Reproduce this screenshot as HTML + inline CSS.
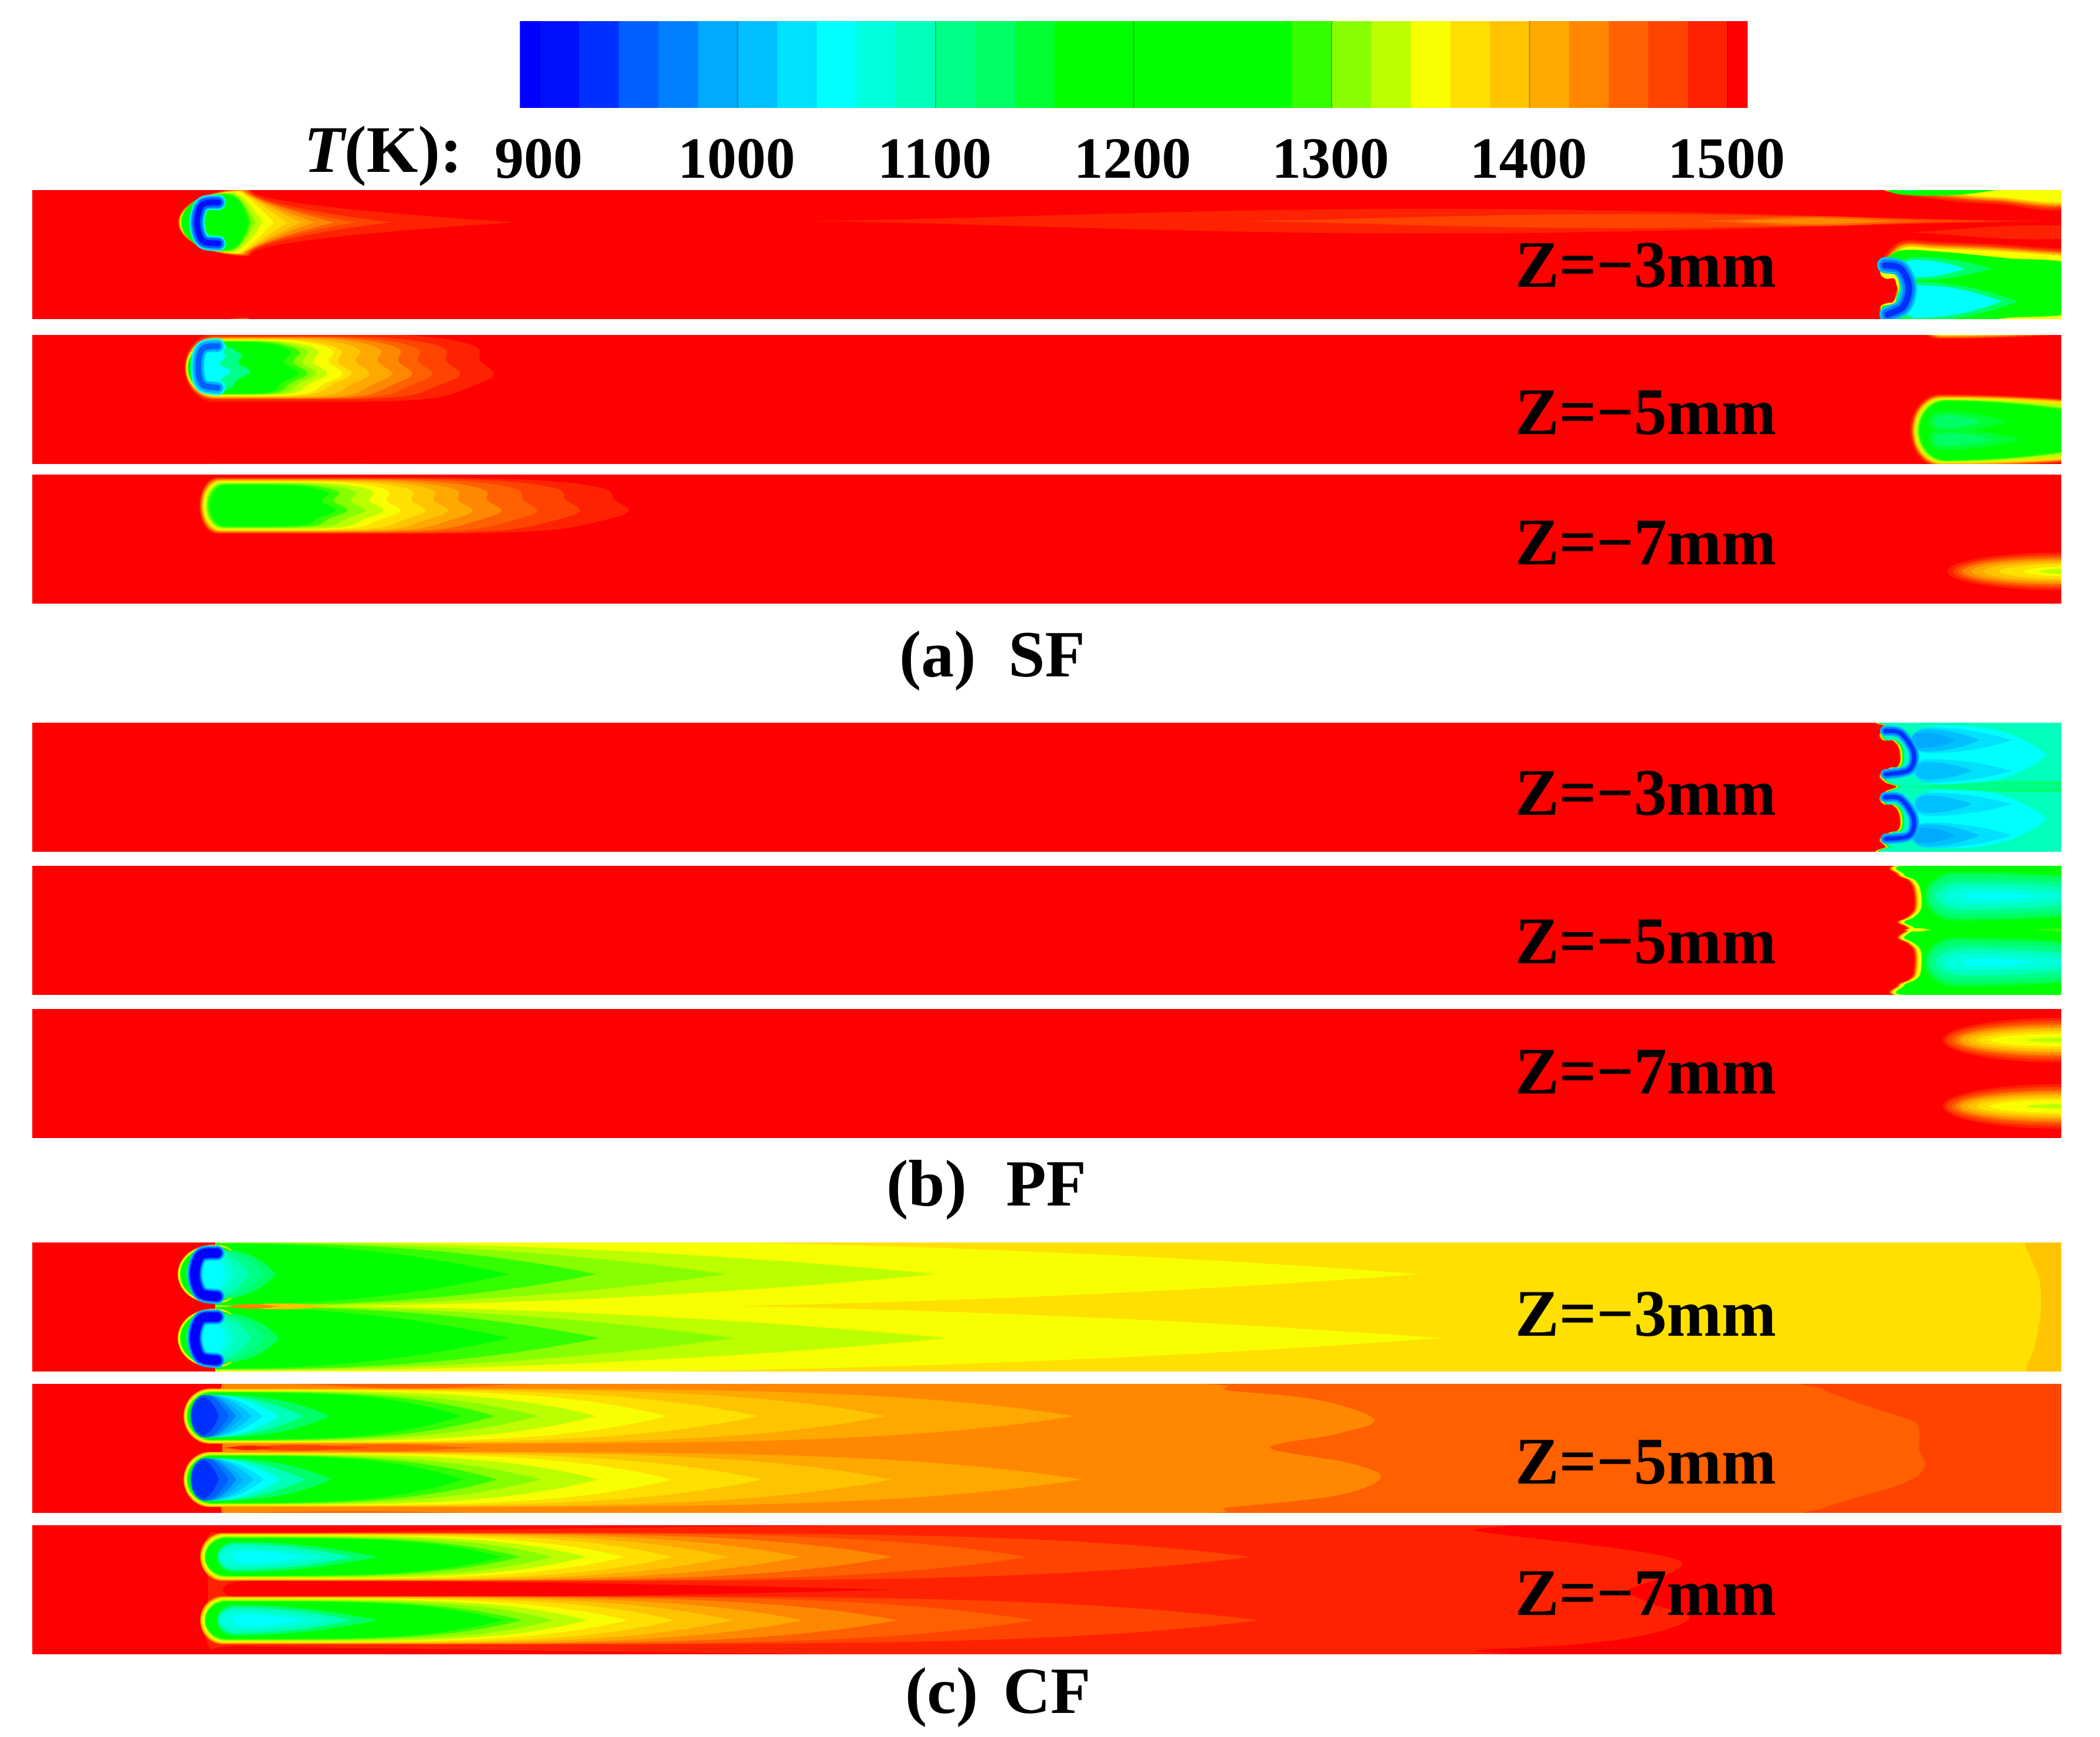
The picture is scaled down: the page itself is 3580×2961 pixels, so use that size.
<!DOCTYPE html>
<html lang="en">
<head>
<meta charset="utf-8">
<title>Temperature contours SF PF CF</title>
<style>
html,body{margin:0;padding:0;background:#fff;}
svg{display:block;}
text{font-family:"Liberation Serif",serif;font-weight:bold;fill:#000;}
</style>
</head>
<body>
<svg id="chart" xmlns="http://www.w3.org/2000/svg" width="3580" height="2961" viewBox="0 0 3580 2961">
<rect x="0" y="0" width="3580" height="2961" fill="#fff"/>
<defs id="clips"></defs>
<g id="colorbar"></g>
<g id="panels"></g>
<g id="tickLabels"></g>
<text x="518" y="293" font-size="113"><tspan font-style="italic">T</tspan>(K):</text>

<text x="2583" y="489" font-size="113" textLength="445" lengthAdjust="spacingAndGlyphs">Z=−3mm</text>
<text x="2583" y="740" font-size="113" textLength="445" lengthAdjust="spacingAndGlyphs">Z=−5mm</text>
<text x="2583" y="962" font-size="113" textLength="445" lengthAdjust="spacingAndGlyphs">Z=−7mm</text>
<text x="2583" y="1389" font-size="113" textLength="445" lengthAdjust="spacingAndGlyphs">Z=−3mm</text>
<text x="2583" y="1642" font-size="113" textLength="445" lengthAdjust="spacingAndGlyphs">Z=−5mm</text>
<text x="2583" y="1864" font-size="113" textLength="445" lengthAdjust="spacingAndGlyphs">Z=−7mm</text>
<text x="2583" y="2277" font-size="113" textLength="445" lengthAdjust="spacingAndGlyphs">Z=−3mm</text>
<text x="2583" y="2529" font-size="113" textLength="445" lengthAdjust="spacingAndGlyphs">Z=−5mm</text>
<text x="2583" y="2753" font-size="113" textLength="445" lengthAdjust="spacingAndGlyphs">Z=−7mm</text>

<text x="1533" y="1153" font-size="112">(a)</text>
<text x="1719" y="1153" font-size="112">SF</text>
<text x="1511" y="2055" font-size="112">(b)</text>
<text x="1715" y="2055" font-size="112">PF</text>
<text x="1543" y="2920" font-size="112">(c)</text>
<text x="1710" y="2920" font-size="112">CF</text>
</svg>
<script>
// ---------- colour scale ----------
const bandTemps  = [890,900,920,940,960,980,1000,1020,1040,1060,1080,1100,1120,1140,1160,1200,1280,1300,1320,1340,1360,1380,1400,1420,1440,1460,1480,1500];
const bandColors = ['#0000ff','#0010ff','#0030ff','#0060ff','#0080ff','#00aaff','#00c0ff','#00e0ff','#00ffff','#00ffdd','#00ffbb','#00ff88','#00ff66','#00ff33','#00ff00','#00ff00','#33ff00','#88ff00','#bbff00','#f8ff00','#ffe000','#ffc400','#ffa800','#ff8800','#ff6000','#ff4400','#ff2200','#ff0000'];
const bandMax = 1510;
const tickValues = [900,1000,1100,1200,1300,1400,1500];
const tickLabels = ['900','1000','1100','1200','1300','1400','1500'];

// ---------- channel sections ----------
const panelTops = [324,571,809,1232,1476,1720,2118,2359,2600];
const stationDomain = [55,3514];
const spanDomain = [0,220];

// level rows: [temperature, head station, tip station, second-plume tip, half width, taper power, nose length]
// SF
const sfZ3Wake = [[1480,303,880,null,58,.5,120],[1460,304,666,null,57,.55,118],[1440,305,605,null,56,.6,116],[1420,305,570,null,55,.7,112],[1400,306,536,null,54,.8,108],[1380,306,513,null,54,.9,106],[1360,307,490,null,53,1,104],[1340,307,467,null,52,1.2,100],[1320,308,448,null,51,1.5,90],[1300,308,436,null,50,2,80],[1280,309,428,null,49,3,70],[1200,310,424,null,47,4,60]];
const sfZ5Wake = [[1480,315,833,null,58,7,50],[1460,315,775,null,54,7,50],[1440,316,727,null,53,7,50],[1420,316,693,null,52,7,50],[1400,317,658,null,51,7,50],[1380,317,620,null,50,7,50],[1360,318,589,null,49,6,50],[1340,318,574,null,48,6,50],[1320,319,547,null,47,6,48],[1300,320,528,null,46,6,48],[1280,320,513,null,45,6,46],[1200,321,497,null,44,6,46],[1100,330,420,null,38,3,40],[1040,330,385,null,34,3,36]];
const sfZ7Wake = [[1480,340,1064,null,48,7,30],[1460,341,980,null,47,7,30],[1440,342,907,null,46,7,30],[1420,343,846,null,45,7,30],[1400,344,796,null,44,7,30],[1380,345,754,null,43,7,30],[1360,346,716,null,42,7,30],[1340,348,673,null,41,7,30],[1320,350,643,null,40,7,28],[1300,352,612,null,38,7,28],[1280,354,582,null,37,7,28],[1200,358,562,null,35,7,26]];
const sfZ5Tail = [[1480,3256,3900,null,62,2,50],[1440,3259,3900,null,60,2,50],[1400,3261,3900,null,58,2,48],[1360,3263,3900,null,56,2,48],[1320,3266,3800,null,54,2,46],[1280,3270,3700,null,52,2,46],[1200,3273,3680,null,50,2,44]];
const sfZ5Lobes = [[1140,3288,3420,3445,18,2,25],[1120,3296,3380,3400,11,2,20]];
const sfZ7Tail = [[1480,3320,4200,null,32,2,190],[1460,3330,4200,null,28,2,180],[1440,3338,4200,null,25,2,170],[1420,3346,4200,null,22,2,165],[1400,3361,4200,null,19,2,155],[1380,3381,4200,null,16,2,140],[1360,3409,4200,null,13,2,120],[1340,3450,4200,null,9,2,100],[1320,3478,4200,null,5,2,70]];
const sfZ3UpperLobe = [[1120,3236,3395,null,20,2,30],[1040,3240,3350,null,15,2,25]];
const sfZ3LowerLobe = [[1120,3232,3440,null,34,2,30],[1040,3240,3412,null,28,2,30]];
const sfZ3TopLobe = [[1100,3222,3340,null,34,2,30],[1040,3224,3290,null,30,2,24]];
// streak rows: [temperature, start, end, centre, half width]
const sfZ3Streak = [[1480,1370,3500,53,21],[1460,2100,3440,53,12],[1440,2892,3299,53,8],[1420,2950,3240,53,5],[1480,3250,3700,72,12]];
// outlines: station, span pairs
const sfZ3Front = [3216,222,3204,200,3214,193,3226,190,3233,170,3231,152,3226,139,3212,139,3203,129,3218,105,3245,86,3300,88,3400,92,3514,100,3540,100,3540,244,3400,244,3300,236];
const sfZ3FrontLevels = [[1480,0,0],[1460,1,3],[1420,2,6],[1380,2,9],[1340,3,12]];
const sfZ3Green = [3220,222,3208,200,3218,196,3230,193,3238,170,3236,152,3231,136,3216,135,3208,129,3224,110,3250,102,3320,106,3420,116,3540,130,3540,205,3420,218,3340,228,3260,229];
const sfZ3Crescent = [3214,128,3240,134,3254,165,3245,198,3218,212];
const sfZ3Arc = [372,21,345,25,336,55,345,86,372,91];
const sfZ5Arc = [371,19,345,24,338,55,345,84,371,90];
const arcStrokesDeep = [[1040,26],[980,22],[940,17],[900,10]];
const arcStrokesMild = [[1040,26],[1000,20],[980,16],[950,10]];
// PF
const pfZ3Front = [3223,-2,3214,7,3204,20,3210,30,3225,30,3236,42,3239,62,3234,75,3221,77,3204,90,3214,102,3232,109,3214,117,3204,129,3211,139,3225,140,3236,152,3239,172,3234,184,3221,187,3204,199,3214,211,3223,222,3540,222,3540,-2];
const pfZ3FrontLevels = [[1420,0,0],[1340,2,0],[1200,4,0],[1080,7,0]];
const pfZ3Core = [[1040,3265,3490,null,50,3,40]];
const pfZ3OuterLobes = [[1020,3258,3430,null,22,2,30],[1000,3258,3375,null,19,2,25],[980,3258,3334,null,13,2,20]];
const pfZ3InnerLobes = [[1020,3262,3430,null,20,2,25],[1000,3265,3362,null,15,2,20]];
const pfZ3Band = [[1120,3232,3700,109,9],[1100,3240,3600,109,6]];
const pfZ3ArcUpper = [3214,14,3240,18,3262,50,3255,80,3215,88];
const pfZ3ArcLower = [3214,127,3240,130,3262,162,3255,192,3215,198];
const pfZ3ArcStrokes = [[1000,18],[960,13],[920,7]];
const pfZ5Front = [3247,-2,3234,15,3253,25,3262,42,3263,72,3251,87,3234,96,3251,107,3234,122,3251,132,3263,147,3262,182,3253,194,3234,204,3247,222,3540,222,3540,-2];
const pfZ5FrontLevels = [[1460,0,0],[1400,3,0],[1360,5,0],[1340,7,0],[1200,12,0]];
const pfZ5Core = [[1140,3282,3800,null,42,2,50],[1120,3285,3800,null,38,2,50],[1100,3290,3760,null,30,2,50],[1080,3300,3640,null,23,2,50],[1060,3315,3560,null,14,2,40],[1040,3347,3470,null,6,2,40]];
const pfZ5Spikes = [[1340,3245,3292,109,3],[1280,3456,3600,109,3]];
const pfZ7Tail = [[1480,3312,4200,null,38,2,200],[1460,3318,4200,null,33,2,190],[1440,3327,4200,null,29,2,185],[1420,3334,4200,null,26,2,180],[1400,3342,4200,null,22,2,170],[1380,3355,4200,null,19,2,160],[1360,3370,4200,null,15,2,150],[1340,3392,4200,null,11,2,130],[1320,3455,4200,null,4,2,70]];
// CF
const cfZ3Wake = [[1340,367,2421,2455,62,2.5,1],[1320,367,1596,1616,56,2.1,1],[1300,367,1238,1250,54,2.3,1],[1280,367,1016,1022,53,2.5,1],[1200,367,867,867,52,2.2,1]];
const cfZ3Cap = [[1360,303,420,420,50,3,60],[1340,305,420,420,48.5,3,58],[1200,307,420,420,47,3,56],[1120,318,470,476,42,3,40],[1100,318,450,452,40,3,36],[1080,318,425,427,38,3,34],[1060,318,400,400,36,3,32],[1040,318,385,385,34,3,30]];
const cfZ3Edge = [3458,-2,3462,26,3477,65,3479,120,3468,180,3458,222,3540,222,3540,-2];
const cfZ3Sliver = [[1380,379,574,109,5],[1420,379,480,109,4]];
const cfZ3Arc = [370,18,342,22,332,54,342,86,370,92];
const cfZ3ArcStrokes = [[1000,26],[960,22],[920,18],[890,15]];
const cfZ5Wake = [[1400,313,1832,1843,47,5,45],[1380,314,1510,1520,46,5,45],[1360,315,1292,1300,45,4.5,45],[1340,316,1136,1145,44,4.5,44],[1320,318,1016,1020,43,4,42],[1300,318,918,922,42,3.5,42],[1280,319,844,847,41,3.5,42],[1200,320,786,790,40,3.5,42],[1120,325,562,565,36,2.5,38],[1080,325,517,520,36,2,36],[1040,325,476,478,36,2,34],[1020,325,448,450,36,2,32],[1000,325,430,432,36,2,30],[980,325,413,414,36,2,28],[960,325,402,403,36,2,26],[940,325,390,390,36,2,24],[920,327,373,373,32,2,20]];
const cfZ5Orange = [600,-2,420,-2,379,-2,379,110,379,222,420,222,600,222,1937,222,2100,210,2280,190,2354,160,2300,135,2165,109,2280,85,2343,61,2250,28,2100,12,1935,-2];
const cfZ5Far = [3104,-2,3106,9,3180,37,3261,64,3272,86,3272,114,3282,141,3249,168,3158,196,3108,212,3108,222,3540,222,3540,-2];
const cfZ5Slivers = [[1440,500,900,0,8],[1440,500,820,109,6],[1460,379,640,109,5],[1480,379,470,109,4],[1440,400,800,220,3]];
const cfZ7Wake = [[1460,341,2132,2145,41,5.5,38],[1440,341,1751,1762,41,5.5,38],[1420,342,1521,1529,40,5.5,38],[1400,342,1364,1368,40,5,38],[1380,343,1243,1248,39,5,38],[1360,344,1146,1150,38,5,38],[1340,346,1065,1070,37,4.5,36],[1320,348,999,1001,36,4.5,36],[1300,349,941,943,34,4.5,36],[1280,350,887,889,33,4,36],[1200,350,855,856,32,4,36],[1120,370,643,643,26,2,30],[1080,372,600,600,22,2,28],[1060,375,560,560,16,2,26],[1040,395,516,516,10,2,24]];
const cfZ7Warm = [800,8,420,16,355,18,355,110,355,204,420,206,800,212,1660,222,2520,222,2520,213,2698,202,2813,185,2880,158,2820,135,2776,112,2830,90,2868,65,2813,48,2698,32,2517,10,2515,-2,1670,-2];
const cfZ7Core = [[1500,380,1521,null,15,2,40]];

// ---------- scales ----------
const barLeftTemp = 900, barRightTemp = 1500;
function barX(t){ return 920 + (t-barLeftTemp)*(2945-920)/(barRightTemp-barLeftTemp); }
function sx(d){ return 55 + (d-stationDomain[0])*(3514-55)/(stationDomain[1]-stationDomain[0]); }
function sy(p,d){ return panelTops[p] + (d-spanDomain[0])*220/(spanDomain[1]-spanDomain[0]); }
function colorOf(t){
  let c = bandColors[0];
  for(let i=0;i<bandTemps.length;i++){ if(bandTemps[i]<=t) c = bandColors[i]; }
  return c;
}
const NS = 'http://www.w3.org/2000/svg';
function make(tag,parent){ const n = document.createElementNS(NS,tag); parent.appendChild(n); return n; }
function f(v){ return Math.round(v*10)/10; }

// ---------- colour bar ----------
const barGroup = document.getElementById('colorbar');
bandTemps.forEach(function(t,i){
  const el = make('rect',barGroup);
  
  
  const next = i+1<bandTemps.length ? bandTemps[i+1] : bandMax;
  el.setAttribute('x',f(barX(t)));
  el.setAttribute('y',36);
  el.setAttribute('width',f(barX(next)-barX(t)+0.6));
  el.setAttribute('height',148);
  el.setAttribute('fill',bandColors[i]);
});
const labelGroup = document.getElementById('tickLabels');
tickValues.forEach(function(t,i){
  const mark = make('rect',barGroup);
  
  
  mark.setAttribute('x',f(barX(t)-1));
  mark.setAttribute('y',36);
  mark.setAttribute('width',2);
  mark.setAttribute('height',148);
  mark.setAttribute('fill','#000');
  mark.setAttribute('fill-opacity','0.25');
  const el = make('text',labelGroup);
  
  
  el.setAttribute('x',f(barX(t)-2));
  el.setAttribute('y',303);
  el.setAttribute('font-size',100);
  el.setAttribute('text-anchor','middle');
  el.textContent = tickLabels[i];
});

// ---------- panels ----------
const panelRoot = document.getElementById('panels');
const clipRoot = document.getElementById('clips');
function panel(p){
  const cp = make('clipPath',clipRoot);
  cp.setAttribute('id','clip'+p);
  const r = make('rect',cp);
  r.setAttribute('x',55); r.setAttribute('y',panelTops[p]); r.setAttribute('width',3459); r.setAttribute('height',220);
  const g = make('g',panelRoot);
  
  
  g.setAttribute('clip-path','url(#clip'+p+')');
  band(g,p,1500,55,3514);
  return g;
}
function band(g,p,t,a,b){
  const el = make('rect',g);
  
  
  el.setAttribute('x',f(sx(a)));
  el.setAttribute('y',panelTops[p]);
  el.setAttribute('width',f(sx(b)-sx(a)));
  el.setAttribute('height',220);
  el.setAttribute('fill',colorOf(t));
}
function plumePath(p,cy,head,tip,H,pw,R,wave){
  R = Math.min(R,(tip-head)*0.8);
  const up=[], low=[];
  const N1=14, N2=60;
  for(let i=0;i<=N1;i++){
    const a=i/N1*Math.PI/2;
    up.push([head+R*(1-Math.cos(a)),H*Math.sin(a),0]);
  }
  for(let i=1;i<=N2;i++){
    const u=Math.sin(i/N2*Math.PI/2);
    const w=1-Math.pow(u,pw);
    up.push([head+R+(tip-head-R)*u,H*(pw>=6?Math.sqrt(w):w),u]);
  }
  const pts=[];
  up.forEach(function(q){
    const dx = wave ? wave*q[2]*q[2]*q[2]*Math.sin(-q[1]/H*7) : 0;
    pts.push([q[0]+dx,cy-q[1]]);
  });
  for(let i=up.length-2;i>=1;i--){
    const q=up[i];
    const dx = wave ? wave*q[2]*q[2]*q[2]*Math.sin(q[1]/H*7) : 0;
    low.push([q[0]+dx,cy+q[1]]);
  }
  return 'M'+pts.concat(low).map(function(q){return f(sx(q[0]))+','+f(sy(p,q[1]));}).join('L')+'Z';
}
function levels(g,p,rows,cys,wave){
  rows.forEach(function(r){
    cys.forEach(function(cy,k){
      const el = make('path',g);
      
      
      const tip = (k%2===1 && r[3]!==null) ? r[3] : r[2];
      el.setAttribute('d',plumePath(p,cy,r[1],tip,r[4],r[5],r[6],wave||0));
      el.setAttribute('fill',colorOf(r[0]));
    });
  });
}
function smooth(p,arr,closed,dx,dy,inset,dyShift){
  const q=[];
  for(let i=0;i<arr.length;i+=2){
    let y=arr[i+1];
    if(inset && y<165) y+=inset;
    if(inset && y>225) y-=inset;
    q.push([sx(arr[i]+dx),sy(p,y+dyShift)]);
  }
  const n=q.length;
  let d='M'+f(q[0][0])+','+f(q[0][1]);
  const last = closed ? n : n-1;
  for(let i=0;i<last;i++){
    const p0 = closed ? q[(i-1+n)%n] : q[Math.max(i-1,0)];
    const p1 = q[i%n];
    const p2 = q[(i+1)%n];
    const p3 = closed ? q[(i+2)%n] : q[Math.min(i+2,n-1)];
    const c1=[p1[0]+(p2[0]-p0[0])/6,p1[1]+(p2[1]-p0[1])/6];
    const c2=[p2[0]-(p3[0]-p1[0])/6,p2[1]-(p3[1]-p1[1])/6];
    d+='C'+f(c1[0])+','+f(c1[1])+' '+f(c2[0])+','+f(c2[1])+' '+f(p2[0])+','+f(p2[1]);
  }
  return closed ? d+'Z' : d;
}
function outlines(g,p,arr,rows,shifts){
  rows.forEach(function(r){
    (shifts||[0]).forEach(function(s){
      const el = make('path',g);
      
      
      el.setAttribute('d',smooth(p,arr,true,r[1],0,r[2],s));
      el.setAttribute('fill',colorOf(r[0]));
    });
  });
}
function arcs(g,p,arr,rows,shifts){
  rows.forEach(function(r){
    (shifts||[0]).forEach(function(s){
      const el = make('path',g);
      
      
      el.setAttribute('d',smooth(p,arr,false,0,0,0,s));
      el.setAttribute('fill','none');
      el.setAttribute('stroke',colorOf(r[0]));
      el.setAttribute('stroke-width',r[1]);
      el.setAttribute('stroke-linecap','round');
      el.setAttribute('stroke-linejoin','round');
    });
  });
}
function streaks(g,p,rows){
  rows.forEach(function(r){
    const el = make('path',g);
    
    
    const N=40, a=[], b=[];
    for(let i=0;i<=N;i++){
      const s=i/N, h=r[4]*Math.pow(Math.sin(Math.PI*s),1.4), x=r[1]+(r[2]-r[1])*s;
      a.push(f(sx(x))+','+f(sy(p,r[3]-h)));
      b.unshift(f(sx(x))+','+f(sy(p,r[3]+h)));
    }
    el.setAttribute('d','M'+a.concat(b).join('L')+'Z');
    el.setAttribute('fill',colorOf(r[0]));
  });
}

// SF
let g = panel(0);
levels(g,0,sfZ3Wake,[55,275]);
arcs(g,0,sfZ3Arc,arcStrokesDeep);
streaks(g,0,sfZ3Streak);
outlines(g,0,sfZ3Front,sfZ3FrontLevels,[0,-220]);
outlines(g,0,sfZ3Green,[[1200,0,0]],[0,-220]);
levels(g,0,sfZ3UpperLobe,[134]);
levels(g,0,sfZ3LowerLobe,[190]);
levels(g,0,sfZ3TopLobe,[-32]);
arcs(g,0,sfZ3Crescent,[[1000,28],[960,20],[930,11]]);

g = panel(1);
levels(g,1,sfZ5Wake,[56,277],12);
arcs(g,1,sfZ5Arc,arcStrokesMild);
levels(g,1,sfZ5Tail,[163,-55]);
levels(g,1,sfZ5Lobes,[148,178]);

g = panel(2);
levels(g,2,sfZ7Wake,[53],12);
levels(g,2,sfZ7Tail,[165]);

// PF
g = panel(3);
outlines(g,3,pfZ3Front,pfZ3FrontLevels);
levels(g,3,pfZ3Core,[55,164]);
streaks(g,3,pfZ3Band);
levels(g,3,pfZ3OuterLobes,[30,192]);
levels(g,3,pfZ3InnerLobes,[82,139]);
arcs(g,3,pfZ3ArcUpper,pfZ3ArcStrokes);
arcs(g,3,pfZ3ArcLower,pfZ3ArcStrokes);

g = panel(4);
outlines(g,4,pfZ5Front,pfZ5FrontLevels);
levels(g,4,pfZ5Core,[52,164]);
streaks(g,4,pfZ5Spikes);

g = panel(5);
levels(g,5,pfZ7Tail,[53,166]);

// CF
g = panel(6);
band(g,6,1360,367,3514);
outlines(g,6,cfZ3Edge,[[1380,0,0]]);
levels(g,6,cfZ3Wake,[54,163]);
streaks(g,6,cfZ3Sliver);
levels(g,6,cfZ3Cap,[54,163]);
arcs(g,6,cfZ3Arc,cfZ3ArcStrokes,[0,109]);

g = panel(7);
band(g,7,1440,379,3514);
outlines(g,7,cfZ5Far,[[1460,0,0]]);
outlines(g,7,cfZ5Orange,[[1420,0,0]]);
streaks(g,7,cfZ5Slivers);
levels(g,7,cfZ5Wake,[55,163]);

g = panel(8);
outlines(g,8,cfZ7Warm,[[1480,0,0]]);
levels(g,8,cfZ7Core,[110]);
levels(g,8,cfZ7Wake,[54,162]);
</script>
</body>
</html>
